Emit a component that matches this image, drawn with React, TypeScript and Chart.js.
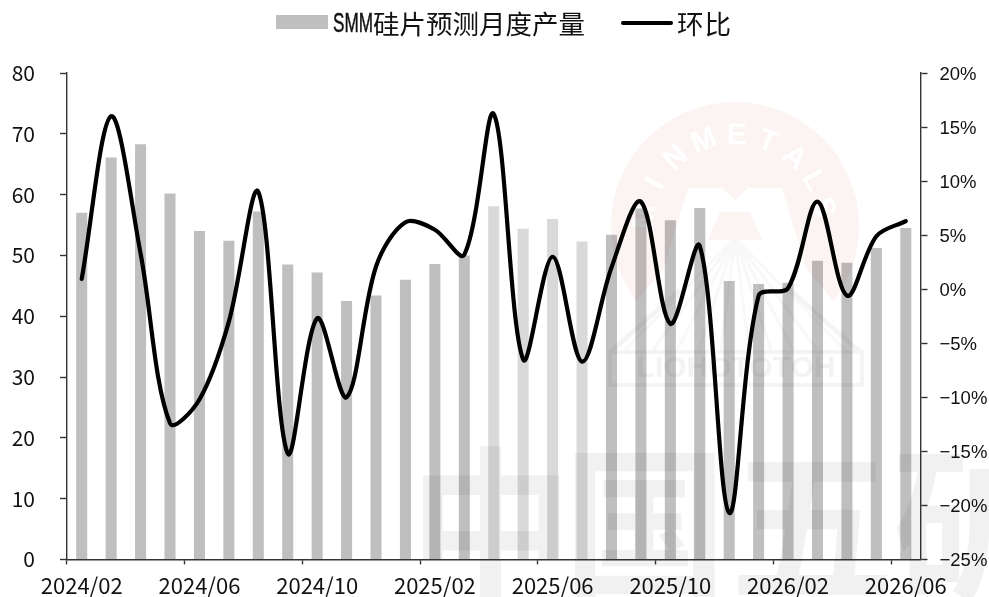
import React, { useEffect, useRef } from "react";
import { Chart, registerables } from "chart.js";

Chart.register(...registerables);

const categories = [
  "2024/02","2024/03","2024/04","2024/05","2024/06","2024/07","2024/08","2024/09","2024/10","2024/11","2024/12","2025/01",
  "2025/02","2025/03","2025/04","2025/05","2025/06","2025/07","2025/08","2025/09","2025/10","2025/11","2025/12","2026/01",
  "2026/02","2026/03","2026/04","2026/05","2026/06",
];
const production = [57, 66.1, 68.3, 60.2, 54, 52.4, 57.2, 48.5, 47.2, 42.5, 43.4, 46, 48.6, 50, 58.1, 54.4, 56, 52.3, 53.4, 57.7, 55.8, 57.8, 45.8, 45.3, 45.5, 49.1, 48.8, 51.2, 54.5];
const mom = [0.95, 16, 3.3, -12.4, -10.2, -3, 9, -15.2, -2.7, -10, 2.1, 6.2, 5.5, 3.2, 16.2, -6.5, 3, -6.7, 2, 8.1, -3.2, 4, -20.7, -0.6, 0.1, 8.1, -0.6, 4.9, 6.3];
const barColors = production.map((_, i) => (i >= 14 && i <= 17 ? "#d9d9d9" : "#bfbfbf"));
const legendBar = "SMM硅片预测月度产量";
const legendLine = "环比";
const watermarkText = ["中", "国", "五", "矿"];
const logoLetters = ["M", "I", "N", "M", "E", "T", "A", "L", "S"];
const logoAngles = [-84, -62, -41, -20, 1, 21, 41, 60, 78];

const CJK = '"Noto Sans CJK SC"';

const watermark = {
  id: "watermark",
  afterDatasetsDraw(chart: any) {
    const w = chart.width, h = chart.height;
    const off = document.createElement("canvas");
    off.width = w; off.height = h;
    const c = off.getContext("2d")!;
    c.fillStyle = "#fcf3f3";
    c.beginPath(); c.arc(735, 226, 124, 0, Math.PI * 2); c.fill();
    c.globalCompositeOperation = "destination-out";
    c.font = "bold 30px 'Liberation Sans'";
    c.textAlign = "center"; c.textBaseline = "middle";
    logoLetters.forEach((l, i) => {
      c.save();
      c.translate(735, 226);
      c.rotate((logoAngles[i] * Math.PI) / 180);
      c.fillText(l, 0, -90);
      c.restore();
    });
    c.beginPath();
    c.moveTo(688, 188); c.lineTo(722, 188); c.lineTo(735, 200); c.lineTo(748, 188); c.lineTo(782, 188);
    c.lineTo(806, 268); c.lineTo(875, 352); c.lineTo(595, 352); c.lineTo(664, 268);
    c.closePath(); c.fill();
    c.globalCompositeOperation = "source-over";
    c.fillStyle = "#fcf3f3";
    c.beginPath();
    c.moveTo(735, 212); c.lineTo(750, 212); c.lineTo(762, 240); c.lineTo(708, 240); c.lineTo(720, 212);
    c.closePath(); c.fill();
    c.strokeStyle = "#f8f8f8"; c.lineWidth = 3;
    [-110, -82, -58, -36, -14, 14, 36, 58, 82, 110].forEach((dx) => {
      c.beginPath(); c.moveTo(735, 238); c.lineTo(735 + dx, 350); c.stroke();
    });
    c.strokeStyle = "#f4f4f4"; c.lineWidth = 5;
    c.beginPath(); c.moveTo(610, 352); c.lineTo(680, 290); c.moveTo(860, 352); c.lineTo(790, 290); c.stroke();
    c.lineWidth = 4;
    c.strokeRect(610, 352, 252, 33);
    c.fillStyle = "#f3f3f3";
    c.font = "bold 30px 'Liberation Sans'";
    c.fillText("LIOHOTOTOH", 736, 369, 240);
    c.fillStyle = "#f1f1f1";
    c.font = `bold 165px ${CJK}`;
    c.textAlign = "center"; c.textBaseline = "middle";
    [491, 645, 812, 975].forEach((x, i) => c.fillText(watermarkText[i], x, 524));
    const ctx = chart.ctx;
    ctx.save();
    ctx.globalCompositeOperation = "multiply";
    ctx.drawImage(off, 0, 0);
    ctx.restore();
  },
};

export default function App() {
  const ref = useRef<HTMLCanvasElement>(null);
  useEffect(() => {
    const chart = new Chart(ref.current!, {
      type: "bar",
      plugins: [watermark],
      data: {
        labels: categories,
        datasets: [
          { type: "line", label: legendLine, data: mom, yAxisID: "y1", borderColor: "#000", borderWidth: 4.2, tension: 0.33, pointRadius: 0, borderCapStyle: "round", order: 1, fill: false },
          { type: "bar", label: legendBar, data: production, yAxisID: "y", backgroundColor: barColors, barPercentage: 0.375, categoryPercentage: 1, order: 2 },
        ] as any,
      },
      options: {
        animation: false,
        responsive: false,
        layout: { padding: { top: 73, left: 0, right: 0, bottom: 0 } },
        plugins: { legend: { display: false }, tooltip: { enabled: false } },
        scales: {
          x: {
            offset: true,
            border: { color: "#333", width: 1.4 },
            grid: {
              offset: true, drawOnChartArea: false, tickLength: 5, tickWidth: 1.4,
              tickColor: (c: any) => (c.index % 4 === 0 ? "#333" : "rgba(0,0,0,0)"),
            },
            ticks: {
              autoSkip: false, maxRotation: 0, minRotation: 0, padding: 8, color: "#111",
              font: { family: CJK, size: 22 },
              callback: (_: any, i: number) => (i % 4 === 0 ? categories[i] : ""),
            },
            afterFit: (s: any) => { s.height = 37.5; },
          },
          y: {
            position: "left", min: 0, max: 80,
            border: { color: "#333", width: 1.4 },
            grid: { drawOnChartArea: false, tickLength: 7, tickColor: "#333", tickWidth: 1.4 },
            ticks: { stepSize: 10, padding: 25, labelOffset: 0, color: "#111", font: { family: CJK, size: 21 } },
            afterFit: (s: any) => { s.width = 67; },
          },
          y1: {
            position: "right", min: -25, max: 20,
            border: { color: "#333", width: 1.4 },
            grid: { drawOnChartArea: false, tickLength: 7, tickColor: "#333", tickWidth: 1.4 },
            ticks: {
              stepSize: 5, padding: 12, labelOffset: 2, color: "#111",
              font: { family: '"Liberation Sans"', size: 18.5 },
              callback: (v: any) => `${Number(v) < 0 ? "−" + Math.abs(v) : v}%`,
            },
            afterFit: (s: any) => { s.width = 68.5; },
          },
        },
      } as any,
    });
    return () => chart.destroy();
  }, []);
  const cjkStyle: React.CSSProperties = {
    position: "absolute", top: 5, fontFamily: CJK, fontSize: 26.5, lineHeight: "36px", color: "#111", whiteSpace: "nowrap",
  };
  return (
    <div style={{ position: "absolute", left: 0, top: 0, width: 989, height: 597, background: "#fff", overflow: "hidden" }}>
      <canvas ref={ref} width={989} height={597} style={{ display: "block" }} />
      <div style={{ position: "absolute", left: 276, top: 15, width: 52, height: 14, background: "#bfbfbf" }} />
      <span style={{ position: "absolute", left: 333, top: 5, fontFamily: "Liberation Sans", fontSize: 27, lineHeight: "36px", color: "#111", transform: "scaleX(0.635)", transformOrigin: "left center", whiteSpace: "nowrap", WebkitTextStroke: "0.5px #111" }}>{legendBar.slice(0, 3)}</span>
      <span style={{ ...cjkStyle, left: 373 }}>{legendBar.slice(3)}</span>
      <div style={{ position: "absolute", left: 621, top: 21, width: 52, height: 3.6, background: "#000", borderRadius: 2 }} />
      <span style={{ ...cjkStyle, left: 677, letterSpacing: 1 }}>{legendLine}</span>
    </div>
  );
}
